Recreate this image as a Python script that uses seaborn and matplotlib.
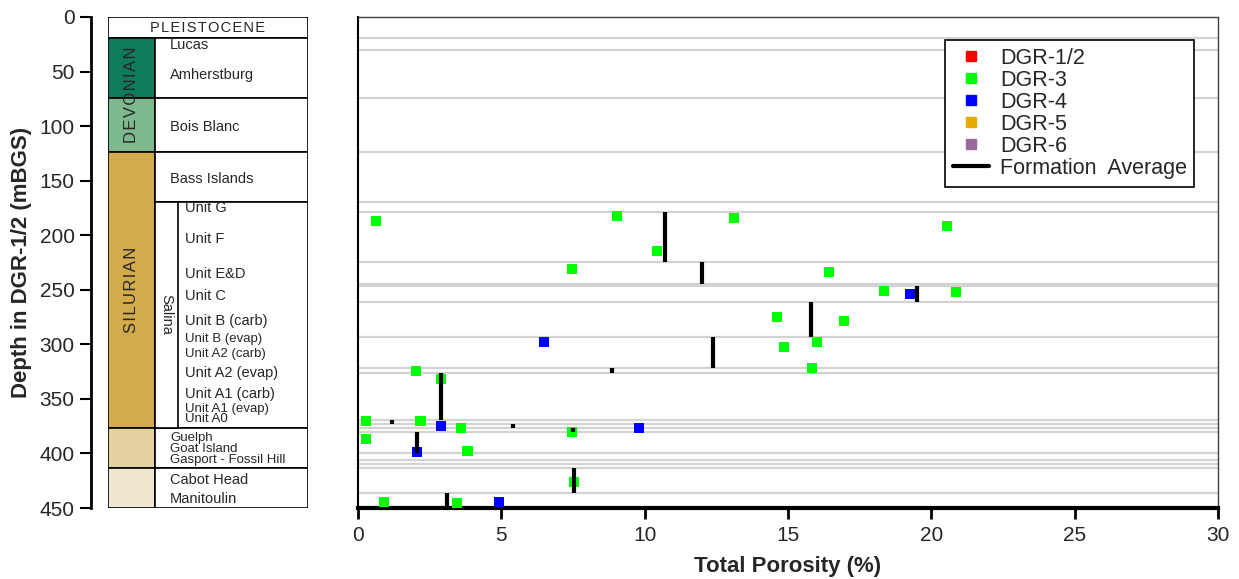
import numpy as np
import pandas as pd
import seaborn as sns
import matplotlib.pyplot as plt
from matplotlib.lines import Line2D

# porosity samples (%), depth in mBGS
dgr3_porosity = [0.62, 9.04, 13.11, 20.53, 10.44, 7.47, 16.43, 18.35, 20.86, 14.63,
                 16.95, 16.02, 14.86, 15.85, 2.01, 2.89, 0.27, 2.18, 3.59, 7.47,
                 0.27, 3.82, 7.53, 0.91, 3.46]
dgr3_depth = [186.7, 182.4, 183.9, 191.6, 214.2, 231.2, 234.0, 250.8, 252.0, 275.2,
              278.3, 298.2, 302.8, 322.0, 324.2, 332.0, 370.3, 370.3, 376.4, 380.6,
              386.8, 397.5, 426.5, 444.8, 445.7]
dgr4_porosity = [19.25, 6.49, 2.89, 9.80, 2.07, 4.92]
dgr4_depth = [254.2, 298.2, 374.6, 376.4, 399.0, 444.8]

# formation averages: value, top and base of the formation
avg_value = [10.7, 12.0, 19.5, 15.8, 12.4, 8.85, 2.9, 1.2, 5.4, 7.5, 2.05, 7.55, 3.1]
avg_top = [178.4, 224.3, 246.4, 260.9, 293.0, 322.0, 326.0, 369.3, 373.0, 376.6, 380.3, 413.6, 436.5]
avg_base = [224.3, 244.7, 260.9, 293.0, 322.0, 326.0, 369.3, 373.0, 376.6, 380.3, 399.9, 436.5, 450.0]

# formation contacts in DGR-1/2
contacts = [19.2, 30.2, 74.2, 123.7, 169.3, 178.4, 224.3, 244.7, 246.4, 260.9, 293.0,
            322.0, 326.0, 369.3, 373.0, 376.6, 380.3, 399.9, 406.0, 409.7, 413.6, 436.5]

wells = ['DGR-1/2', 'DGR-3', 'DGR-4', 'DGR-5', 'DGR-6']
well_colors = ['#ff0000', '#00ff00', '#0000ff', '#e6aa00', '#9a6a9e']

# stratigraphic column (schematic)
period_top = [19.2, 74.2, 123.7, 376.7, 413.3]
period_base = [74.2, 123.7, 376.7, 413.3, 450.0]
period_colors = ['#0e7b5d', '#7db98d', '#d4ab4a', '#e3d0a3', '#f0e6d0']
box_top = [19.2, 74.2, 123.7, 169.3, 376.7, 413.3]
box_base = [74.2, 123.7, 169.3, 376.7, 413.3, 450.0]

names = ['Lucas', 'Amherstburg', 'Bois Blanc', 'Bass Islands', 'Unit G', 'Unit F',
         'Unit E&D', 'Unit C', 'Unit B (carb)', 'Unit B (evap)', 'Unit A2 (carb)',
         'Unit A2 (evap)', 'Unit A1 (carb)', 'Unit A1 (evap)', 'Unit A0', 'Guelph',
         'Goat Island', 'Gasport - Fossil Hill', 'Cabot Head', 'Manitoulin']
name_depth = [25.7, 53.2, 100.8, 148.5, 175.0, 203.5, 235.5, 255.7, 278.6, 295.1,
              308.9, 326.3, 345.5, 359.3, 368.4, 385.8, 395.9, 406.0, 424.3, 441.8]
crowded = {'Unit B (evap)', 'Unit A2 (carb)', 'Unit A1 (evap)', 'Unit A0',
           'Guelph', 'Goat Island', 'Gasport - Fossil Hill'}

df = pd.DataFrame({
    'porosity': dgr3_porosity + dgr4_porosity,
    'depth': dgr3_depth + dgr4_depth,
    'well': ['DGR-3'] * len(dgr3_depth) + ['DGR-4'] * len(dgr4_depth),
})

sns.set_theme(style='white')
plt.rcParams['font.family'] = ['Liberation Sans', 'DejaVu Sans']

W, H = 1239, 579
fig = plt.figure(figsize=(W / 100, H / 100), dpi=100)
bottom, height = 1 - 508 / H, 491 / H
ax = fig.add_axes([358 / W, bottom, 860 / W, height])
axc = fig.add_axes([108 / W, bottom, 200 / W, height])

# main plot
ax.hlines(contacts, 0, 30, color='#d2d2d2', lw=1.6, zorder=1)
sns.scatterplot(data=df, x='porosity', y='depth', hue='well',
                palette=dict(zip(wells, well_colors)), marker='s', s=52,
                linewidth=0, legend=False, ax=ax, zorder=3)
ax.vlines(avg_value, avg_top, avg_base, color='black', lw=3, zorder=4)
ax.set_xlim(0, 30)
ax.set_ylim(450, 0)
ax.set_xticks(range(0, 31, 5))
ax.set_yticks([])
ax.set_ylabel('')
ax.set_xlabel('Total Porosity (%)', fontsize=16, fontweight='bold', labelpad=8)
ax.tick_params(axis='x', direction='out', length=8, width=2, color='black',
               labelsize=15, pad=5, bottom=True)
ax.spines['bottom'].set_linewidth(3)
ax.spines['bottom'].set_color('black')
ax.spines['left'].set_linewidth(1.5)
ax.spines['left'].set_color('black')
for s in ['top', 'right']:
    ax.spines[s].set_linewidth(1)
    ax.spines[s].set_color('#404040')

handles = [Line2D([], [], marker='s', color=c, ls='none', markersize=7) for c in well_colors]
handles.append(Line2D([], [], color='black', lw=3))
leg = ax.legend(handles, wells + ['Formation  Average'], loc='upper left',
                bbox_to_anchor=(0.6826, 0.953), borderaxespad=0, fontsize=15.5,
                frameon=True, fancybox=False, edgecolor='black', framealpha=1,
                labelspacing=0.05, handlelength=1.7, handletextpad=0.5,
                borderpad=0.35)
leg.get_frame().set_linewidth(1.2)

# stratigraphic column
axc.set_xlim(0, 1)
axc.set_ylim(450, 0)
edge = dict(edgecolor='black', linewidth=1.2)
axc.bar(0.5, 19.2, bottom=0, width=1, color='white', **edge)
axc.bar(0.1175, np.subtract(period_base, period_top), bottom=period_top,
        width=0.235, color=period_colors, **edge)
axc.bar(0.6175, np.subtract(box_base, box_top), bottom=box_top,
        width=0.765, color='white', **edge)
axc.bar(0.2925, 376.7 - 169.3, bottom=169.3, width=0.115, color='white', **edge)

axc.text(0.5, 10, '\u200a'.join('PLEISTOCENE'), ha='center', va='center', fontsize=10.5)
axc.text(0.1175, 71.5, '\u200a'.join('DEVONIAN'), rotation=90, ha='center', va='center',
         fontsize=12)
axc.text(0.1175, 250, '\u200a'.join('SILURIAN'), rotation=90, ha='center', va='center',
         fontsize=12)
axc.text(0.2925, 273, 'Salina', rotation=-90, ha='center', va='center', fontsize=10.5)
for n, d in zip(names, name_depth):
    xpos = 0.385 if n.startswith('Unit') else 0.31
    axc.text(xpos, d, n, ha='left', va='center', fontsize=9.5 if n in crowded else 10.5)

axc.set_yticks(range(0, 451, 50))
axc.set_xticks([])
for s in ['top', 'right', 'bottom']:
    axc.spines[s].set_visible(False)
axc.spines['left'].set_position(('outward', 12))
axc.spines['left'].set_linewidth(2)
axc.spines['left'].set_color('black')
axc.tick_params(axis='y', direction='out', length=8, width=1.5, color='black',
                labelsize=15, pad=4, left=True)
axc.set_ylabel('Depth in DGR-1/2 (mBGS)', fontsize=16, fontweight='bold')
axc.yaxis.set_label_coords(-0.38, 0.5)

fig.savefig('out.png', dpi=100)
